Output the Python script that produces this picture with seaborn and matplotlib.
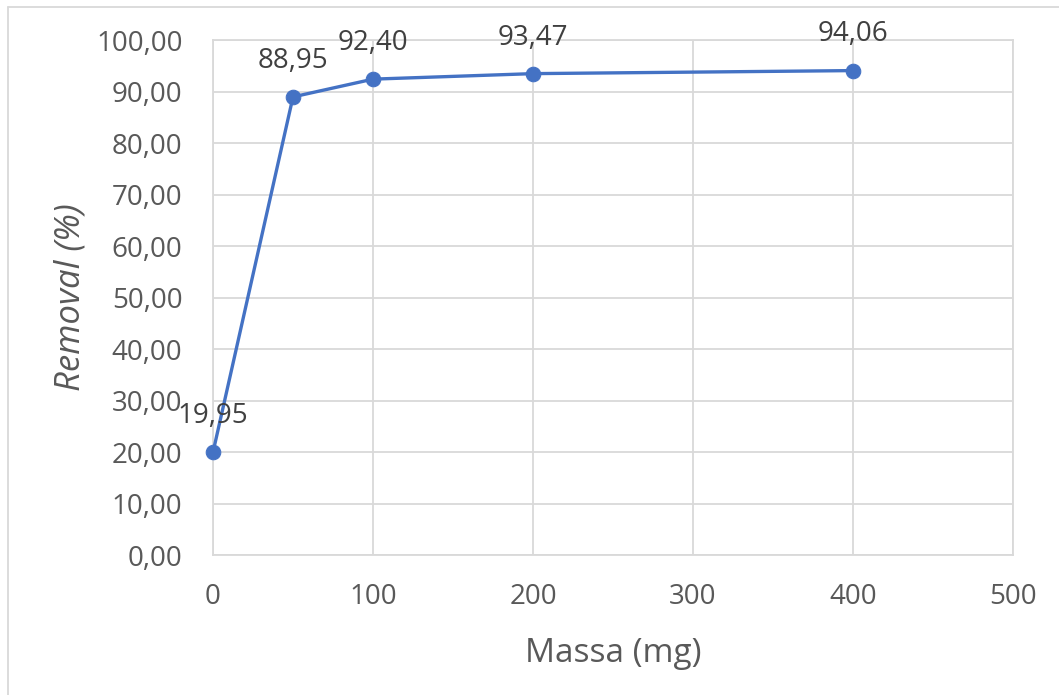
import matplotlib
matplotlib.use("Agg")
import matplotlib.pyplot as plt
from matplotlib.lines import Line2D
import seaborn as sns
import pandas as pd

# Adsorbent mass vs. removal efficiency
massa_mg = [0, 50, 100, 200, 400]
removal_pct = [19.95, 88.95, 92.40, 93.47, 94.06]
x_ticks = [0, 100, 200, 300, 400, 500]
y_ticks = [0, 10, 20, 30, 40, 50, 60, 70, 80, 90, 100]

df = pd.DataFrame({"Massa (mg)": massa_mg, "Removal (%)": removal_pct})

sns.set_theme(style="white")
plt.rcParams["font.family"] = ["Open Sans", "DejaVu Sans"]

def fmt(v):
    return f"{v:.2f}".replace(".", ",")

line_color = "#4472C4"
grid_color = "#D9D9D9"
tick_color = "#595959"

fig = plt.figure(figsize=(10.59, 6.95), dpi=100)
ax = fig.add_axes([213 / 1059, 1 - 555 / 695, 800 / 1059, 515 / 695])

sns.lineplot(data=df, x="Massa (mg)", y="Removal (%)", ax=ax, color=line_color,
             linewidth=2.4, marker="o", markersize=10.5, markeredgecolor=line_color,
             zorder=3, clip_on=False)

ax.set_xlim(0, 500)
ax.set_ylim(0, 100)
ax.set_xticks(x_ticks)
ax.set_yticks(y_ticks)
ax.set_xticklabels([str(t) for t in x_ticks])
ax.set_yticklabels([fmt(t) for t in y_ticks])

ax.grid(True, color=grid_color, linewidth=1.3, zorder=0)
ax.set_axisbelow(True)
for side in ["left", "bottom", "right", "top"]:
    ax.spines[side].set_color(grid_color)
    ax.spines[side].set_linewidth(1.3)

ax.tick_params(axis="both", length=0, labelsize=20, labelcolor=tick_color)
ax.tick_params(axis="y", pad=22)
ax.tick_params(axis="x", pad=20)

ax.set_xlabel("Massa (mg)", fontsize=24, color=tick_color, labelpad=19)
ax.set_ylabel("Removal (%)", fontsize=25, color=tick_color, style="italic", labelpad=6)

for xv, yv in zip(massa_mg, removal_pct):
    ax.annotate(fmt(yv), (xv, yv), xytext=(0, 26), textcoords="offset points",
                ha="center", va="center", fontsize=20, color="#404040",
                annotation_clip=False, zorder=4)

# chart frame (left and top edges)
fig.add_artist(Line2D([8 / 1059, 8 / 1059], [0, 1 - 7 / 695], transform=fig.transFigure,
                      color=grid_color, linewidth=1.3))
fig.add_artist(Line2D([8 / 1059, 1], [1 - 7 / 695, 1 - 7 / 695], transform=fig.transFigure,
                      color=grid_color, linewidth=1.3))

fig.savefig("out.png", dpi=100)
